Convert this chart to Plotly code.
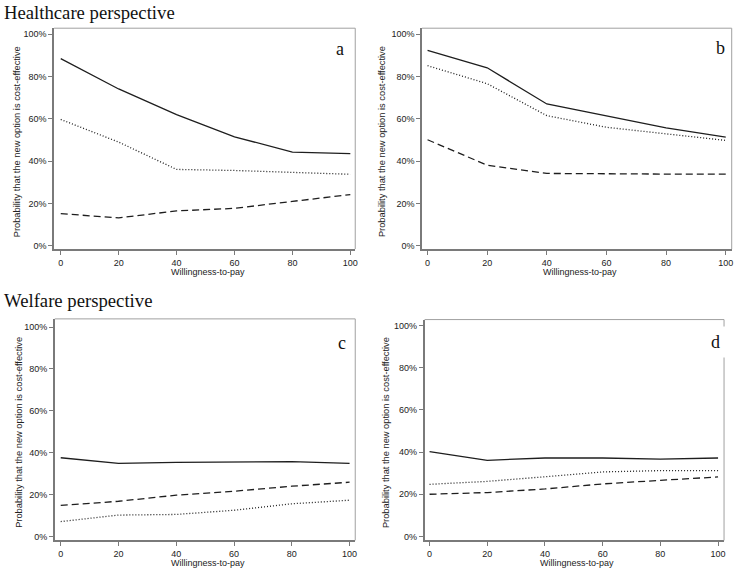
import plotly.graph_objects as go

W, H = 737, 571

wtp = [0, 20, 40, 60, 80, 100]
x_ticks = [0, 20, 40, 60, 80, 100]
y_ticks = [0, 20, 40, 60, 80, 100]
y_tick_labels = ["0%", "20%", "40%", "60%", "80%", "100%"]

a_solid = [88.4, 74.1, 62.0, 51.5, 44.3, 43.6]
a_dotted = [59.7, 49.0, 36.1, 35.6, 34.7, 33.8]
a_dashed = [15.2, 13.2, 16.5, 17.7, 21.0, 24.2]

b_solid = [92.3, 84.1, 67.0, 61.2, 55.7, 51.3]
b_dotted = [85.1, 76.6, 61.5, 56.0, 52.9, 49.8]
b_dashed = [50.1, 38.1, 34.2, 33.9, 33.9, 33.9]

c_solid = [37.6, 34.9, 35.4, 35.7, 35.7, 34.9]
c_dashed = [14.8, 16.8, 19.7, 21.6, 24.0, 25.9]
c_dotted = [7.1, 10.2, 10.5, 12.5, 15.6, 17.3]

d_solid = [40.2, 36.1, 37.2, 37.2, 36.7, 37.2]
d_dotted = [24.7, 26.1, 28.3, 30.6, 31.2, 31.2]
d_dashed = [20.0, 20.8, 22.5, 24.9, 26.6, 28.2]

panel_labels = ["a", "b", "c", "d"]
section_titles = ["Healthcare perspective", "Welfare perspective"]
x_title = "Willingness-to-pay"
y_title = "Probability that the new option is cost-effective"

LINE = "#1e1e1e"
AX = "#7a7a7a"
FRAME = "#a0a0a0"
SANS = "Liberation Sans, Arial, sans-serif"
SERIF = "Liberation Serif, Times New Roman, serif"

# panel pixel boxes: left, right, top, bottom ; axis ranges
panels = [
    dict(box=(54.3, 356.7, 28.3, 250.0), xr=(-2.3, 101.7), yr=(-1.55, 102.8),
         series=[(a_solid, "solid"), (a_dotted, "dot"), (a_dashed, "dash")],
         lab=(341.7, 49.0), labbg=False, ytx=16.7),
    dict(box=(423.7, 734.7, 28.3, 250.0), xr=(-1.87, 102.0), yr=(-1.55, 102.8),
         series=[(b_solid, "solid"), (b_dotted, "dot"), (b_dashed, "dash")],
         lab=(723.3, 48.3), labbg=True, ytx=383.0),
    dict(box=(55.0, 356.7, 320.0, 542.3), xr=(-2.06, 101.96), yr=(-1.9, 103.95),
         series=[(c_solid, "solid"), (c_dashed, "dash"), (c_dotted, "dot")],
         lab=(343.3, 344.0), labbg=True, ytx=18.3),
    dict(box=(426.3, 727.0, 320.7, 542.3), xr=(-1.73, 102.07), yr=(-1.89, 102.84),
         series=[(d_solid, "solid"), (d_dotted, "dot"), (d_dashed, "dash")],
         lab=(718.7, 343.3), labbg=True, ytx=387.7),
]

dash_map = {"solid": "solid", "dot": "1px,2px", "dash": "7px,4px"}

fig = go.Figure()
layout = dict(
    width=W, height=H, margin=dict(l=0, r=0, t=0, b=0),
    paper_bgcolor="white", plot_bgcolor="white", showlegend=False,
    font=dict(family=SANS, size=9, color="#222"),
)
annotations = []
shapes = []

for i, p in enumerate(panels):
    n = "" if i == 0 else str(i + 1)
    l, r, t, b = p["box"]
    xd = [l / W, r / W]
    yd = [1 - b / H, 1 - t / H]
    layout["xaxis" + n] = dict(
        domain=xd, range=list(p["xr"]), anchor="y" + n,
        tickmode="array", tickvals=x_ticks, ticks="outside", ticklen=4,
        tickcolor=AX, tickwidth=1, showgrid=False, zeroline=False,
        showline=True, linecolor=AX, linewidth=1.5,
        tickfont=dict(family=SANS, size=9, color="#222"),
    )
    layout["yaxis" + n] = dict(
        domain=yd, range=list(p["yr"]), anchor="x" + n,
        tickmode="array", tickvals=y_ticks, ticktext=y_tick_labels,
        ticks="outside", ticklen=4, tickcolor=AX, tickwidth=1,
        showgrid=False, zeroline=False,
        showline=True, linecolor=AX, linewidth=1.5,
        tickfont=dict(family=SANS, size=9, color="#222"),
    )
    for vals, style in p["series"]:
        fig.add_trace(go.Scatter(
            x=wtp, y=vals, mode="lines", xaxis="x" + n, yaxis="y" + n,
            line=dict(color=LINE, width=1.3, dash=dash_map[style]),
            hoverinfo="skip",
        ))
    # top and right frame
    shapes.append(dict(type="line", xref="x" + n + " domain", yref="y" + n + " domain",
                       x0=0, x1=1, y0=1, y1=1, line=dict(color=FRAME, width=1)))
    shapes.append(dict(type="line", xref="x" + n + " domain", yref="y" + n + " domain",
                       x0=1, x1=1, y0=0, y1=1, line=dict(color=FRAME, width=1)))
    # axis titles
    annotations.append(dict(
        text=x_title, xref="paper", yref="paper",
        x=((l + r) / 2 + 3) / W, y=1 - (b + 22.7) / H,
        xanchor="center", yanchor="middle", showarrow=False,
        font=dict(family=SANS, size=9, color="#222"),
    ))
    annotations.append(dict(
        text=y_title, xref="paper", yref="paper", textangle=-90,
        x=p["ytx"] / W, y=1 - ((t + b) / 2 + 3) / H,
        xanchor="center", yanchor="middle", showarrow=False,
        font=dict(family=SANS, size=9.3, color="#222"),
    ))
    # panel letter
    lab = dict(
        text=panel_labels[i], xref="paper", yref="paper",
        x=p["lab"][0] / W, y=1 - p["lab"][1] / H,
        xanchor="center", yanchor="middle", showarrow=False,
        font=dict(family=SERIF, size=18, color="#111"),
    )
    if p["labbg"]:
        lab["bgcolor"] = "white"
        lab["borderpad"] = 5
    annotations.append(lab)

annotations.append(dict(
    text=section_titles[0], xref="paper", yref="paper", x=2 / W, y=1.0,
    xanchor="left", yanchor="top", showarrow=False,
    font=dict(family=SERIF, size=18.7, color="#111"),
))
annotations.append(dict(
    text=section_titles[1], xref="paper", yref="paper", x=2 / W, y=1 - 289.5 / H,
    xanchor="left", yanchor="top", showarrow=False,
    font=dict(family=SERIF, size=18.7, color="#111"),
))

layout["annotations"] = annotations
layout["shapes"] = shapes
fig.update_layout(**layout)
fig.write_html(
    "out.html",
    config={"displayModeBar": False},
    post_script="document.body.style.margin='0';document.body.style.overflow='hidden';",
)
